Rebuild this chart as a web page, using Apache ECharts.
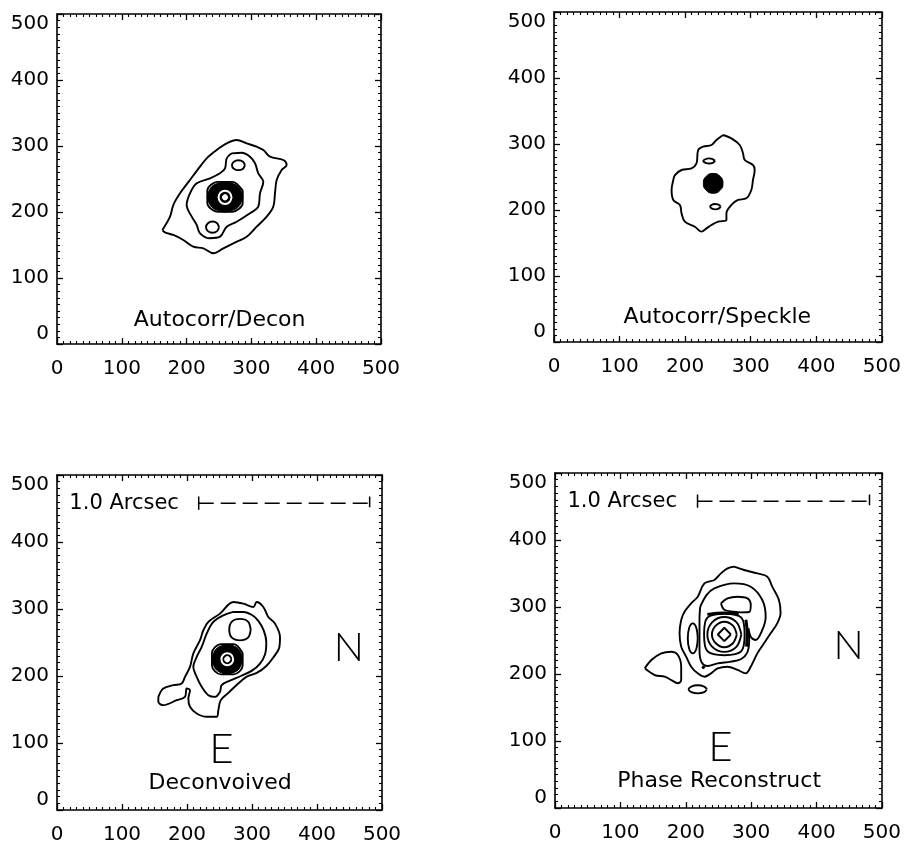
<!DOCTYPE html>
<html>
<head>
<meta charset="utf-8">
<script src="https://cdn.jsdelivr.net/npm/echarts@6/dist/echarts.min.js"></script>
<style>
html,body{margin:0;padding:0;background:#fff;}
#chart{width:904px;height:845px;}
</style>
</head>
<body>
<div id="chart"></div>
<script>
// ---------- axis ----------
const AXIS_MIN = 0;
const AXIS_MAX = 500;
const AXIS_STEP = 100;

// ---------- captions ----------
const captions = ['Autocorr/Decon', 'Autocorr/Speckle', 'Deconvoived', 'Phase Reconstruct'];
const captionAnchor = [[251, 36], [249, 38], [251, 40], [251, 40]];
const scaleText = '1.0 Arcsec';
const scaleTextAnchor = [19, 458];
const scaleBar = [[218, 458], [481, 458]];
const scaleBarLeftEnd = [[218, 448], [218, 468]];
const scaleBarRightEnd = [[481, 452], [481, 468]];
const compassN = [449, 241];
const compassE = [253, 91];

// ---------- Panel 1: Autocorr/Decon ----------
const p1Outer = [[162.6,172.7],[174.4,192.9],[179.5,210.6],[189.8,228.3],[205.2,248.5],[220.7,268.7],[231,281.3],[246.4,293.9],[261.8,304],[277.3,309.1],[292.7,304],[308.1,299],[318.4,293.9],[328.7,283.8],[349.3,278.8],[354.4,271.2],[346.7,263.6],[339,248.5],[336.4,228.3],[333.8,208.1],[323.6,192.9],[308.1,177.8],[292.7,162.6],[272.1,152.5],[256.7,145],[241.3,137.4],[225.8,145],[210.4,147.5],[195,157.6],[179.5,165.2],[166.7,169.2],[162.6,172.7]];
const p1Inner = [[269.6,288.9],[261.9,281.3],[259.3,266.2],[251.5,258.6],[236.1,251],[215.6,243.4],[205.2,228.3],[200.1,210.6],[207.9,192.9],[215.6,180.3],[220.7,167.7],[236.1,160.2],[251.5,162.6],[261.9,177.7],[277.3,185.3],[297.8,198],[310.6,208],[313.3,228.3],[318.4,245.9],[310.6,258.6],[305.6,273.8],[297.8,283.8],[285,289.8],[269.6,288.9]];
const p1LobeUp = [[290,271],[287.1,276.3],[280,278.5],[272.9,276.3],[270,271],[272.9,265.7],[280,263.5],[287.1,265.7],[290,271]];
const p1LobeDown = [[250,177],[247.1,183],[240,185.5],[232.9,183],[230,177],[232.9,171],[240,168.5],[247.1,171],[250,177]];
const p1CoreEdge = [[286.6,232.4],[270.6,245.6],[248,245.6],[232,232.4],[232,213.6],[248,200.4],[270.6,200.4],[286.6,213.6],[286.6,232.4]];
const p1CoreFill = [[284.2,231.6],[269.6,243.8],[249,243.8],[234.4,231.6],[234.4,214.4],[249,202.2],[269.6,202.2],[284.2,214.4]];
const p1Ring = [[269.3,222.3],[266.4,229.4],[259.3,232.3],[252.2,229.4],[249.3,222.3],[252.2,215.2],[259.3,212.3],[266.4,215.2],[269.3,222.3]];
const p1Center = [[263.3,222.3],[262.1,225.1],[259.3,226.3],[256.5,225.1],[255.3,222.3],[256.5,219.5],[259.3,218.3],[262.1,219.5]];

// ---------- Panel 2: Autocorr/Speckle ----------
const p2Outer = [[257.9,313.6],[270.5,308.6],[283.2,298.5],[288.2,285.9],[290.8,275.8],[303.4,268.2],[306,260.6],[303.4,245.5],[300.9,230.3],[293.3,217.7],[280.6,215.2],[270.5,207.6],[262.9,194.9],[262.9,184.8],[250.3,182.3],[240.1,177.3],[232.5,172.2],[224.9,167.2],[214.8,174.7],[199.6,182.3],[194.5,194.9],[192,207.6],[181.9,215.2],[179.3,230.3],[181.9,245.5],[184.4,253],[194.5,260.6],[209.7,263.1],[217.3,270.7],[219.9,290.9],[227.5,296],[240.1,298.5],[247.7,306.1],[257.9,313.6]];
const p2Peak = [[257.7,240.4],[253.3,251],[242.7,255.4],[232.1,251],[227.7,240.4],[232.1,229.8],[242.7,225.4],[253.3,229.8]];
const p2LobeUp = [[245.6,274.5],[241,277.5],[236,278.2],[230,276.5],[227.6,274.2],[231,271.5],[237,270.4],[242,271.5],[245.6,274.5]];
const p2LobeDown = [[254.2,205.5],[250,208.5],[245,209],[240,207.5],[238.2,205],[241,202],[246,201],[251,202],[254.2,205.5]];

// ---------- Panel 3: Deconvolved ----------
const p3Outer = [[155.9,168.9],[163.6,181.3],[179,186.3],[191.8,188.8],[196.9,198.7],[204.6,213.6],[209.7,233.5],[220,253.4],[225.1,268.3],[232.8,280.7],[250.8,293.1],[271.3,310.5],[286.7,308],[302.1,303],[307.2,310.5],[317.4,303],[325.1,288.1],[335.4,278.2],[343.1,258.3],[342,243],[333,228],[322,215],[308,205],[292,199],[278,188],[265,176],[252,164],[248.2,149],[245.6,139.1],[230.3,139.1],[214.9,144.1],[204.6,154],[202.1,166.4],[204.6,178.8],[199.5,181.3],[196.9,168.9],[184.1,163.9],[163.6,156.5],[155.9,161.4],[155.9,168.9]];
const p3Inner = [[271.3,295.6],[255.9,290.6],[240.5,280.7],[230.3,263.3],[222.6,243.4],[214.9,228.5],[209.7,213.6],[214.9,198.7],[222.6,183.8],[232.8,171.4],[243.1,168.9],[250.8,176.4],[253.3,186.3],[266,193],[283,200],[300,208],[312,218],[320,232],[322,250],[318,268],[310,282],[300,291],[286.7,295.6],[271.3,295.6]];
const p3LobeUp = [[298,269.2],[293.9,281.2],[281.5,285.2],[269.1,281.2],[265,269.2],[269.1,257.2],[281.5,253.2],[293.9,257.2],[298,269.2]];
const p3CoreEdge = [[285.6,234.4],[271.8,247.6],[252.2,247.6],[238.4,234.4],[238.4,215.6],[252.2,202.4],[271.8,202.4],[285.6,215.6],[285.6,234.4]];
const p3CoreFill = [[283.3,233.4],[270.8,245.3],[253.2,245.3],[240.7,233.4],[240.7,216.6],[253.2,204.7],[270.8,204.7],[283.3,216.6]];
const p3Ring = [[271,225],[268.4,231.4],[262,234],[255.6,231.4],[253,225],[255.6,218.6],[262,216],[268.4,218.6],[271,225]];
const p3Center = [[266,225],[264.8,227.8],[262,229],[259.2,227.8],[258,225],[259.2,222.2],[262,221],[264.8,222.2]];

// ---------- Panel 4: Phase Reconstruct ----------
const p4Outer = [[274.1,360.2],[289.3,355.2],[309.5,350.2],[324.7,345.3],[332.3,330.3],[342.5,310.4],[345,290.5],[339.9,275.6],[329.8,260.7],[319.7,245.8],[309.5,230.8],[299.4,210.9],[291.8,201],[279.1,206],[263.9,210.9],[248.7,208.5],[238.6,201],[228.5,196],[218.3,201],[208.2,210.9],[200.6,225.9],[193,240.8],[190.5,260.7],[193,280.6],[198.1,293],[208.2,305.5],[218.3,315.4],[228.5,335.3],[243.7,340.3],[253.8,350.2],[263.9,357.7],[274.1,360.2]];
const p4Second = [[222,300],[232,318],[243.7,327.9],[274.1,335.3],[299.4,330.3],[317.1,310.4],[322.2,285.6],[317.1,265.7],[307,250.7],[299.4,255.7],[296,268],[297,250],[294,232],[284.2,222],[269,218.4],[248.7,215.9],[233.5,212],[224,218],[221,235],[221,260],[221,282],[222,300]];
const p4LobeUp = [[253.8,305.5],[263.9,312.9],[279.1,315.4],[294.3,312.9],[299.4,303],[296.9,292.5],[284.2,292],[274.1,293],[258.9,296],[253.8,305.5]];
const p4LobeLeft = [[218.3,253.2],[216.1,269],[210.7,275.6],[205.3,269],[203.1,253.2],[205.3,237.4],[210.7,230.8],[216.1,237.4],[218.3,253.2]];
const p4Tail = [[137.3,208.5],[147.4,220.9],[162.6,230.8],[177.8,233.3],[187.9,228.4],[193,210.9],[193,191],[187.9,186.1],[177.8,191],[167.7,196],[152.5,198.5],[137.3,208.5]];
const p4Drop = [[232.3,177.1],[228.2,181.3],[218.3,183.1],[208.4,181.3],[204.3,177.1],[208.4,172.9],[218.3,171.1],[228.2,172.9],[232.3,177.1]];
const p4Ring1 = [[269,259],[259,269],[249,259],[259,249],[269,259]];
const p4Ring2 = [[278,259],[272.1,272.1],[259,278],[245.9,272.1],[240,259],[245.9,245.9],[259,240],[272.1,245.9],[278,259]];
const p4Ring3 = [[285,259],[277.4,277.4],[259,285],[240.6,277.4],[233,259],[240.6,240.6],[259,233],[277.4,240.6],[285,259]];
const p4Ring4 = [[290,259],[285,284],[259,290],[233,284],[228,259],[233,234],[259,228],[285,234],[290,259]];
const p4TopBar = [[233,289],[258,291],[281,290]];
const p4RightBar = [[292,281],[294,261],[293,241]];
const p4Dot = [[229,210],[226.9,212],[224.8,210],[226.9,208]];

// ---------- layout (pixels) ----------
const grids = [
  {left: 57, top: 14, width: 324, height: 330},
  {left: 554, top: 12, width: 329, height: 330},
  {left: 57, top: 475, width: 325, height: 335},
  {left: 555, top: 473, width: 329, height: 335}
];

const FONT = 'DejaVu Sans';

function axis(dir, gi, pos, labels) {
  const a = {
    type: 'value', gridIndex: gi, position: pos,
    min: AXIS_MIN, max: AXIS_MAX, interval: AXIS_STEP,
    axisLine: {show: true, onZero: false, lineStyle: {color: '#000', width: 1.6}},
    axisTick: {show: true, inside: true, length: 6, lineStyle: {color: '#000', width: 1.3}},
    minorTick: {show: true, splitNumber: 10, length: 3, lineStyle: {color: '#000', width: 1.1}},
    splitLine: {show: false},
    axisLabel: {show: labels, color: '#000', fontFamily: FONT, fontSize: 20}
  };
  if (dir === 'x') {
    a.axisLabel.margin = 15;
  } else {
    a.axisLabel.margin = 8;
    a.axisLabel.verticalAlignMaxLabel = 'top';
    a.axisLabel.verticalAlignMinLabel = 'bottom';
  }
  return a;
}

const xAxes = [], yAxes = [];
for (let i = 0; i < 4; i++) { xAxes.push(axis('x', i, 'bottom', true)); yAxes.push(axis('y', i, 'left', true)); }
for (let i = 0; i < 4; i++) { xAxes.push(axis('x', i, 'top', false)); yAxes.push(axis('y', i, 'right', false)); }

const series = [];
function line(gi, pts, width, smooth, color, z) {
  series.push({
    type: 'line', xAxisIndex: gi, yAxisIndex: gi, data: pts,
    symbol: 'none', showSymbol: false, smooth: smooth, silent: true,
    lineStyle: {color: color || '#000', width: width, opacity: 1}, z: z || 3
  });
}
function fill(gi, pts, color, z) {
  series.push({
    type: 'custom', xAxisIndex: gi, yAxisIndex: gi, data: [pts[0]], silent: true, z: z,
    renderItem: function (params, api) {
      return {
        type: 'polygon',
        shape: {points: pts.map(function (p) { return api.coord(p); }), smooth: 0.5},
        style: {fill: color, stroke: color, lineWidth: 1, opacity: 1}
      };
    }
  });
}
function text(gi, pos, str, lab) {
  series.push({
    type: 'scatter', xAxisIndex: gi, yAxisIndex: gi, silent: true, symbolSize: 0, z: 6,
    itemStyle: {opacity: 1},
    data: [{value: pos, name: str}],
    label: Object.assign({show: true, position: 'inside', formatter: '{b}', color: '#000',
      opacity: 1, textBorderWidth: 0, fontFamily: FONT, fontSize: 22}, lab || {})
  });
}

// panel 1
[p1Outer, p1Inner, p1LobeUp, p1LobeDown, p1CoreEdge].forEach(function (c) { line(0, c, 1.9, 0.35); });
fill(0, p1CoreFill, '#000', 4);
line(0, p1Ring, 2, 0.5, '#fff', 5);
fill(0, p1Center, '#fff', 5);

// panel 2
[p2Outer, p2LobeUp, p2LobeDown].forEach(function (c) { line(1, c, 1.9, 0.35); });
fill(1, p2Peak, '#000', 4);

// panel 3
[p3Outer, p3Inner, p3LobeUp, p3CoreEdge].forEach(function (c) { line(2, c, 1.9, 0.35); });
fill(2, p3CoreFill, '#000', 4);
line(2, p3Ring, 2, 0.5, '#fff', 5);
fill(2, p3Center, '#fff', 5);

// panel 4
[p4Outer, p4Second, p4LobeUp, p4LobeLeft, p4Tail, p4Drop, p4Ring2, p4Ring3, p4Ring4].forEach(function (c) { line(3, c, 1.9, 0.35); });
line(3, p4Ring1, 1.9, 0);
line(3, p4TopBar, 3, 0.3);
line(3, p4RightBar, 3, 0.3);
fill(3, p4Dot, '#000', 4);

// captions
for (let i = 0; i < 4; i++) text(i, captionAnchor[i], captions[i]);

// scale bar, compass (bottom panels)
[2, 3].forEach(function (gi) {
  text(gi, scaleTextAnchor, scaleText, {position: 'right', distance: 0, align: 'left', fontSize: 21});
  series.push({type: 'line', xAxisIndex: gi, yAxisIndex: gi, data: scaleBar, symbol: 'none', silent: true,
    lineStyle: {color: '#000', width: 1.5, type: [15, 7], opacity: 1}, z: 3});
  line(gi, scaleBarLeftEnd, 1.5, 0);
  line(gi, scaleBarRightEnd, 1.5, 0);
  text(gi, compassN, 'N', {fontFamily: 'Lato', fontWeight: 300, fontSize: 40});
  text(gi, compassE, 'E', {fontFamily: 'Lato', fontWeight: 300, fontSize: 42});
});

const chart = echarts.init(document.getElementById('chart'), null, {renderer: 'canvas'});
chart.setOption({
  animation: false,
  backgroundColor: '#fff',
  grid: grids,
  xAxis: xAxes,
  yAxis: yAxes,
  series: series
});
</script>
</body>
</html>
